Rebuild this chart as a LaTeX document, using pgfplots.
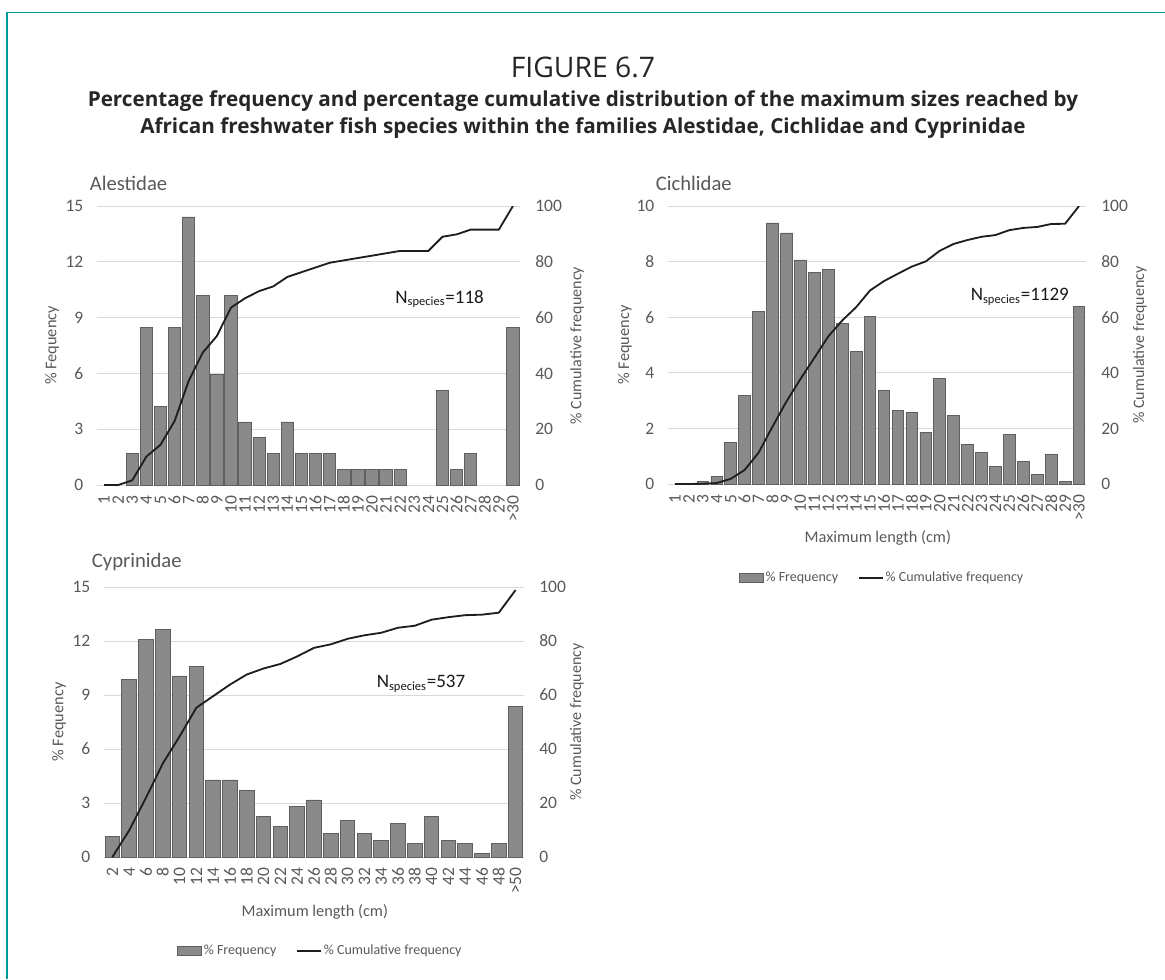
\documentclass[border=0pt]{standalone}
\usepackage{fontspec}
\setmainfont{Carlito}
\newfontfamily\headfont{Open Sans}
\usepackage{pgfplots}
\usepackage{pgfplotstable}
\pgfplotsset{compat=1.18}

\definecolor{txtgray}{RGB}{89,89,89}
\definecolor{gridgray}{RGB}{217,217,217}
\definecolor{barfill}{RGB}{138,138,138}
\definecolor{barline}{RGB}{95,95,95}
\definecolor{cumline}{RGB}{30,30,30}
\definecolor{framecol}{RGB}{0,153,153}

% idx: category position, freq: % of species, cum: cumulative %
\pgfplotstableread{
idx freq cum
0  0     0
1  0     0
2  1.69  1.69
3  8.47  10.17
4  4.24  14.41
5  8.47  22.88
6  14.41 37.29
7  10.17 47.46
8  5.93  53.39
9  10.17 63.56
10 3.39  66.95
11 2.54  69.49
12 1.69  71.19
13 3.39  74.58
14 1.69  76.27
15 1.69  77.97
16 1.69  79.66
17 0.85  80.51
18 0.85  81.36
19 0.85  82.20
20 0.85  83.05
21 0.85  83.90
22 0     83.90
23 0     83.90
24 5.08  88.98
25 0.85  89.83
26 1.69  91.53
27 0     91.53
28 0     91.53
29 8.47  100
}\alestidae

\pgfplotstableread{
idx freq cum
0  0     0
1  0     0
2  0.09  0.09
3  0.27  0.35
4  1.51  1.86
5  3.19  5.05
6  6.20  11.25
7  9.39  20.64
8  9.03  29.67
9  8.06  37.73
10 7.62  45.35
11 7.71  53.06
12 5.76  58.81
13 4.78  63.60
14 6.02  69.62
15 3.37  72.99
16 2.66  75.64
17 2.57  78.21
18 1.86  80.07
19 3.81  83.88
20 2.48  86.36
21 1.42  87.78
22 1.15  88.93
23 0.62  89.55
24 1.77  91.32
25 0.80  92.12
26 0.35  92.47
27 1.06  93.53
28 0.09  93.62
29 6.38  100
}\cichlidae

\pgfplotstableread{
idx freq cum
0  1.12  0
1  9.87  9.87
2  12.10 21.97
3  12.66 34.64
4  10.06 44.69
5  10.61 55.31
6  4.28  59.59
7  4.28  63.87
8  3.72  67.60
9  2.23  69.83
10 1.68  71.51
11 2.79  74.30
12 3.17  77.47
13 1.30  78.77
14 2.05  80.82
15 1.30  82.12
16 0.93  83.05
17 1.86  84.92
18 0.74  85.66
19 2.23  87.90
20 0.93  88.83
21 0.74  89.57
22 0.19  89.76
23 0.74  90.50
24 8.38  98.88
}\cyprinidae

\pgfplotsset{
  freqaxis/.style={
    scale only axis,
    axis x line*=bottom,
    axis y line*=left,
    x axis line style={draw=gridgray, line width=0.6pt},
    y axis line style={draw=none},
    major tick length=0pt,
    ymin=0,
    ymajorgrids,
    grid style={draw=gridgray, line width=0.6pt},
    /pgf/number format/assume math mode=true,
    tick label style={font=\fontsize{10.5}{12}\selectfont, text=txtgray},
    xticklabel style={rotate=90, anchor=east, inner sep=0pt},
    yticklabel style={inner sep=0pt},
    xticklabel shift=6pt,
    yticklabel shift=8pt,
    ylabel={\% Fequency},
  },
  cumaxis/.style={
    scale only axis,
    axis x line=none,
    axis y line*=right,
    y axis line style={draw=none},
    major tick length=0pt,
    ymin=0, ymax=100, ytick={0,20,...,100},
    /pgf/number format/assume math mode=true,
    tick label style={font=\fontsize{10.5}{12}\selectfont, text=txtgray},
    yticklabel style={inner sep=0pt},
    yticklabel shift=9pt,
    ylabel={\% Cumulative frequency},
  },
  freqbars/.style={
    ybar, fill=barfill, draw=barline, line width=0.5pt,
    restrict y to domain=0.001:100,
  },
  cumcurve/.style={cumline, line width=1.1pt, mark=none},
  leftlabel/.style={ylabel style={at={(axis description cs:#1,0.5)}, anchor=center,
    font=\fontsize{9.8}{11}\selectfont, text=txtgray}},
  rightlabel/.style={ylabel style={at={(axis description cs:#1,0.5)}, anchor=center,
    font=\fontsize{9.6}{11}\selectfont, text=txtgray}},
  bottomlabel/.style={xlabel={Maximum length (cm)}, xlabel style={at={(axis description cs:0.502,#1)},
    anchor=center, font=\fontsize{9.8}{12}\selectfont, text=txtgray}},
  panellegend/.style={
    legend style={
      at={#1}, anchor=center, draw=none, fill=none,
      legend columns=2, inner sep=0pt,
      font=\fontsize{8.4}{10}\selectfont, text=txtgray,
      nodes={inner sep=1pt},
      /tikz/every even column/.append style={column sep=11pt},
    },
  },
}

\newcommand\nspecies[1]{N\textsubscript{\fontsize{7.5}{8}\selectfont species}=#1}

\begin{document}
\begin{tikzpicture}
\useasboundingbox (0pt,0pt) rectangle (699pt,-587.4pt);
\draw[framecol, line width=0.9pt] (4.2pt,-587.4pt) -- (4.2pt,-7.5pt) -- (699pt,-7.5pt);

\node[font=\headfont\fontsize{17}{20}\selectfont, text=black!85] at (349.8pt,-40.2pt) {FIGURE 6.7};
\node[font=\headfont\bfseries\fontsize{12.4}{16}\selectfont, align=center, text=black!85] at (349.8pt,-68.7pt)
  {Percentage frequency and percentage cumulative distribution of the maximum sizes reached by\\
   African freshwater fish species within the families Alestidae, Cichlidae and Cyprinidae};

\node[anchor=west, font=\fontsize{12.4}{14}\selectfont, text=txtgray] at (50.4pt,-109.8pt) {Alestidae};
\node[anchor=west, font=\fontsize{12.4}{14}\selectfont, text=txtgray] at (390pt,-109.8pt) {Cichlidae};
\node[anchor=west, font=\fontsize{12.4}{14}\selectfont, text=txtgray] at (51.6pt,-337.2pt) {Cyprinidae};

% ---------------- Alestidae ----------------
\begin{axis}[freqaxis,
  at={(58.2pt,-291pt)}, anchor=south west, width=253.8pt, height=167.4pt,
  xmin=-0.5, xmax=29.5, ymax=15, ytick={0,3,...,15},
  xtick={0,...,29},
  xticklabels={1,2,3,4,5,6,7,8,9,10,11,12,13,14,15,16,17,18,19,20,21,22,23,24,25,26,27,28,29,{>30}},
  leftlabel=-0.106,
]
\addplot[freqbars, bar width=0.88] table[x=idx, y=freq] {\alestidae};
\node[font=\fontsize{11.4}{13}\selectfont, text=black!90] at (axis cs:23.8,10.0) {\nspecies{118}};
\end{axis}
\begin{axis}[cumaxis,
  at={(58.2pt,-291pt)}, anchor=south west, width=253.8pt, height=167.4pt,
  xmin=-0.5, xmax=29.5,
  rightlabel=1.135,
]
\addplot[cumcurve] table[x=idx, y=cum] {\alestidae};
\end{axis}

% ---------------- Cichlidae ----------------
\begin{axis}[freqaxis,
  at={(400.8pt,-290.4pt)}, anchor=south west, width=250.8pt, height=166.8pt,
  xmin=-0.5, xmax=29.5, ymax=10, ytick={0,2,...,10},
  xtick={0,...,29},
  xticklabels={1,2,3,4,5,6,7,8,9,10,11,12,13,14,15,16,17,18,19,20,21,22,23,24,25,26,27,28,29,{>30}},
  bottomlabel=-0.194,
  leftlabel=-0.103,
]
\addplot[freqbars, bar width=0.84] table[x=idx, y=freq] {\cichlidae};
\node[font=\fontsize{11.4}{13}\selectfont, text=black!90] at (axis cs:24.75,6.74) {\nspecies{1129}};
\end{axis}
\begin{axis}[cumaxis,
  at={(400.8pt,-290.4pt)}, anchor=south west, width=250.8pt, height=166.8pt,
  xmin=-0.5, xmax=29.5,
  rightlabel=1.129,
  panellegend={(0.512,-0.338)},
]
\addlegendimage{legend image code/.code={\draw[fill=barfill, draw=barline, line width=0.5pt] (0pt,-2.7pt) rectangle (14.4pt,2.7pt);}}
\addlegendentry{\% Frequency}
\addplot[cumcurve, legend image code/.code={\draw[cumline, line width=1.1pt] (0pt,0pt) -- (14.4pt,0pt);}] table[x=idx, y=cum] {\cichlidae};
\addlegendentry{\% Cumulative frequency}
\end{axis}

% ---------------- Cyprinidae ----------------
\begin{axis}[freqaxis,
  at={(62.4pt,-514.2pt)}, anchor=south west, width=252pt, height=162pt,
  xmin=-0.5, xmax=24.5, ymax=15, ytick={0,3,...,15},
  xtick={0,...,24},
  xticklabels={2,4,6,8,10,12,14,16,18,20,22,24,26,28,30,32,34,36,38,40,42,44,46,48,{>50}},
  bottomlabel=-0.204,
  leftlabel=-0.107,
]
\addplot[freqbars, bar width=0.87] table[x=idx, y=freq] {\cyprinidae};
\node[font=\fontsize{11.4}{13}\selectfont, text=black!90] at (axis cs:18.37,9.63) {\nspecies{537}};
\end{axis}
\begin{axis}[cumaxis,
  at={(62.4pt,-514.2pt)}, anchor=south west, width=252pt, height=162pt,
  xmin=-0.5, xmax=24.5,
  rightlabel=1.126,
  panellegend={(0.515,-0.348)},
]
\addlegendimage{legend image code/.code={\draw[fill=barfill, draw=barline, line width=0.5pt] (0pt,-2.7pt) rectangle (14.4pt,2.7pt);}}
\addlegendentry{\% Frequency}
\addplot[cumcurve, legend image code/.code={\draw[cumline, line width=1.1pt] (0pt,0pt) -- (14.4pt,0pt);}] table[x=idx, y=cum] {\cyprinidae};
\addlegendentry{\% Cumulative frequency}
\end{axis}
\end{tikzpicture}
\end{document}
